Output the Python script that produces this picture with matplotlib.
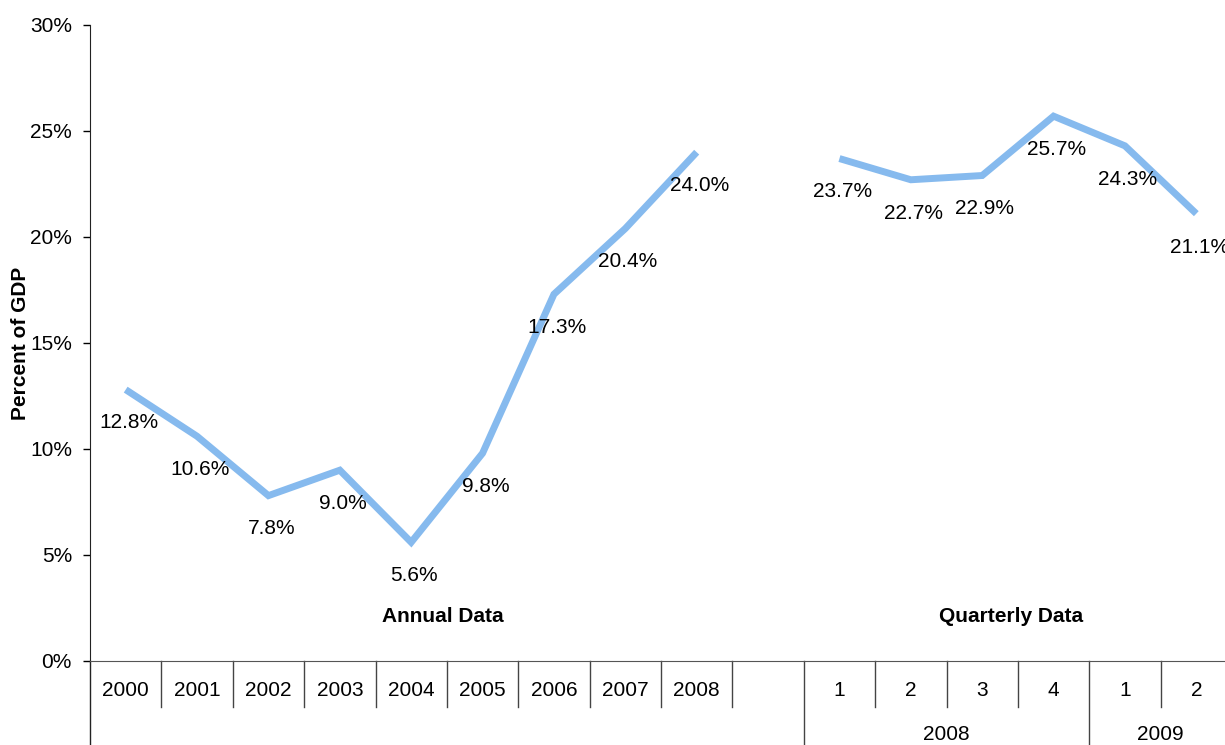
import matplotlib.pyplot as plt
import matplotlib.transforms as mtransforms

plt.rcParams['font.family'] = ['Liberation Sans', 'DejaVu Sans']

# data
annual_labels = ['2000', '2001', '2002', '2003', '2004', '2005', '2006', '2007', '2008']
annual_values = [12.8, 10.6, 7.8, 9.0, 5.6, 9.8, 17.3, 20.4, 24.0]
quarter_labels = ['1', '2', '3', '4', '1', '2']
quarter_years = ['2008', '2009']
quarter_counts = [4, 2]
quarter_values = [23.7, 22.7, 22.9, 25.7, 24.3, 21.1]

line_color = '#86BAEE'
fs = 15

fig = plt.figure(figsize=(12.25, 7.45), dpi=100)
ax = fig.add_axes([90 / 1225, 84 / 745, 1142 / 1225, 636 / 745])

xa = list(range(len(annual_values)))
q0 = len(annual_values) + 1
xq = list(range(q0, q0 + len(quarter_values)))
n_slots = q0 + len(quarter_values)

ax.plot(xa, annual_values, color=line_color, lw=5, solid_joinstyle='miter', solid_capstyle='butt')
ax.plot(xq, quarter_values, color=line_color, lw=5, solid_joinstyle='miter', solid_capstyle='butt')

for x, v in zip(xa + xq, annual_values + quarter_values):
    ax.annotate(f'{v:.1f}%', (x, v), xytext=(2, -24), textcoords='offset points',
                ha='center', va='center', fontsize=fs)

ax.set_xlim(-0.5, n_slots - 0.5)
ax.set_ylim(0, 30)
ax.set_yticks(range(0, 31, 5))
ax.set_yticklabels([f'{t}%' for t in range(0, 31, 5)], fontsize=fs)
ax.tick_params(axis='y', direction='out', length=5, width=1, pad=8)
ax.set_xticks([])
for s in ['top', 'right']:
    ax.spines[s].set_visible(False)
ax.spines['bottom'].set_color('#555555')
ax.spines['left'].set_color('#222222')
ax.spines['left'].set_bounds(0, 30)

ax.set_ylabel('Percent of GDP', fontsize=fs, fontweight='bold', labelpad=0)

trans = mtransforms.blended_transform_factory(ax.transData, ax.transAxes)
row1 = 46 / 636
row2 = 84 / 636

# left spine extension
ax.plot([-0.5, -0.5], [0, -row2], transform=trans, color='#222222', lw=1, clip_on=False)

# category labels, row 1
cats = annual_labels + [''] + quarter_labels
for i, lab in enumerate(cats):
    ax.text(i, -30 / 636, lab, transform=trans, ha='center', va='center', fontsize=fs)

# separators
group_edges = [q0 - 0.5]
pos = q0 - 0.5
for c in quarter_counts:
    pos += c
    group_edges.append(pos)
for i in range(n_slots - 1):
    b = i + 0.5
    depth = row2 if b in group_edges else row1
    ax.plot([b, b], [0, -depth], transform=trans, color='#444444', lw=1, clip_on=False)

# row 2 year labels
start = q0 - 0.5
for yr, c in zip(quarter_years, quarter_counts):
    ax.text(start + c / 2, -74 / 636, yr, transform=trans, ha='center', va='center', fontsize=fs)
    start += c

ax.text(4.44, 2.1, 'Annual Data', ha='center', va='center', fontsize=fs, fontweight='bold')
ax.text(12.41, 2.1, 'Quarterly Data', ha='center', va='center', fontsize=fs, fontweight='bold')

fig.savefig('out.png', dpi=100)
